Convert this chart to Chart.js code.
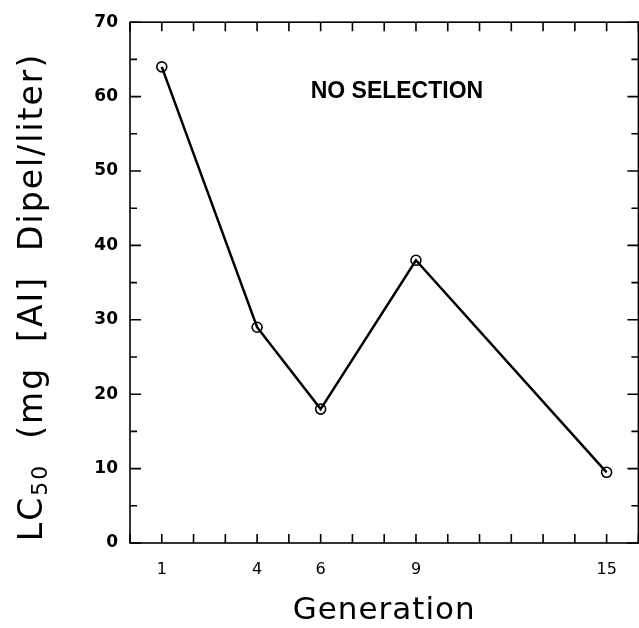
<!DOCTYPE html>
<html>
<head>
<meta charset="utf-8">
<script src="https://cdn.jsdelivr.net/npm/chart.js@4"></script>
<style>
  html, body { margin: 0; padding: 0; background: #fff; overflow: hidden; }
  canvas { display: block; }
</style>
</head>
<body>
<!-- a bit wider than the window: chart.js keeps ~6px on the right that the original has not -->
<canvas id="chart" width="645" height="628"></canvas>
<script>
// data
const generations = [1, 4, 6, 9, 15];
const lc50 = [64, 29, 18, 38, 9.5];
const xTickLabels = [1, 4, 6, 9, 15];
const yTickLabels = [0, 10, 20, 30, 40, 50, 60, 70];
const xTitle = 'Generation';
const yTitleParts = ['LC', '50', '  (mg  [AI]  Dipel/liter)'];
const noteText = 'NO SELECTION';
const notePos = { x: 8.4, y: 60.7 };

// frame + inward ticks on all four sides, titles and the note
const framePlugin = {
  id: 'frame',
  beforeDatasetsDraw(chart) {
    const ctx = chart.ctx;
    const a = chart.chartArea;
    const xs = chart.scales.x, ys = chart.scales.y;
    ctx.save();
    ctx.strokeStyle = '#000';
    ctx.lineWidth = 1.6;
    ctx.strokeRect(a.left, a.top, a.right - a.left, a.bottom - a.top);
    ctx.beginPath();
    xs.ticks.forEach(t => {
      const px = xs.getPixelForValue(t.value);
      ctx.moveTo(px, a.bottom); ctx.lineTo(px, a.bottom - 9);
      ctx.moveTo(px, a.top); ctx.lineTo(px, a.top + 9);
    });
    ys.ticks.forEach(t => {
      const py = ys.getPixelForValue(t.value);
      const len = t.value % 10 === 0 ? 11 : 7;
      ctx.moveTo(a.left, py); ctx.lineTo(a.left + len, py);
      ctx.moveTo(a.right, py); ctx.lineTo(a.right - len, py);
    });
    ctx.stroke();

    // note inside the plot
    ctx.fillStyle = '#000';
    ctx.font = 'bold 23px "Liberation Sans"';
    ctx.textAlign = 'center';
    ctx.textBaseline = 'middle';
    ctx.fillText(noteText, xs.getPixelForValue(notePos.x), ys.getPixelForValue(notePos.y));
    ctx.restore();
  },
  afterDraw(chart) {
    const ctx = chart.ctx;
    const a = chart.chartArea;
    ctx.save();
    ctx.fillStyle = '#000';
    // x title
    ctx.font = '31px "DejaVu Sans"';
    ctx.letterSpacing = '1px';
    ctx.textAlign = 'center';
    ctx.textBaseline = 'middle';
    ctx.fillText(xTitle, (a.left + a.right) / 2, 611);

    // y title with subscript
    ctx.translate(33, 297);
    ctx.rotate(-Math.PI / 2);
    ctx.textAlign = 'left';
    ctx.textBaseline = 'middle';
    ctx.letterSpacing = '2px';
    const big = '33px "DejaVu Sans"', small = '22px "DejaVu Sans"';
    ctx.font = big;
    const w0 = ctx.measureText(yTitleParts[0]).width;
    const w2 = ctx.measureText(yTitleParts[2]).width;
    ctx.font = small;
    const w1 = ctx.measureText(yTitleParts[1]).width;
    let x = -(w0 + w1 + w2) / 2;
    ctx.font = big;
    ctx.fillText(yTitleParts[0], x, 0);
    x += w0;
    ctx.font = small;
    ctx.fillText(yTitleParts[1], x, 8);
    x += w1;
    ctx.font = big;
    ctx.fillText(yTitleParts[2], x, 0);
    ctx.restore();
  }
};

new Chart(document.getElementById('chart'), {
  type: 'line',
  data: {
    datasets: [{
      data: generations.map((g, i) => ({ x: g, y: lc50[i] })),
      borderColor: '#000',
      borderWidth: 2.5,
      pointRadius: 5,
      pointBorderWidth: 1.6,
      pointBackgroundColor: 'rgba(0,0,0,0)',
      pointBorderColor: '#000',
      tension: 0,
      clip: false
    }]
  },
  options: {
    responsive: false,
    animation: false,
    devicePixelRatio: 1,
    layout: { padding: { top: 21, right: 1, left: 0, bottom: 0 } },
    plugins: { legend: { display: false }, tooltip: { enabled: false } },
    scales: {
      x: {
        type: 'linear',
        min: 0,
        max: 16,
        grid: { display: false, drawTicks: false },
        border: { display: false },
        ticks: {
          stepSize: 1,
          autoSkip: false,
          maxRotation: 0,
          padding: 0,
          color: '#000',
          font: { family: 'DejaVu Sans', size: 16, lineHeight: '54px' },
          callback: v => xTickLabels.includes(v) ? String(v) : ''
        },
        afterFit(s) { s.height = 85; s.paddingLeft = 0; s.paddingRight = 0; }
      },
      y: {
        min: 0,
        max: 70,
        grid: { display: false, drawTicks: false },
        border: { display: false },
        ticks: {
          stepSize: 5,
          autoSkip: false,
          padding: 12,
          color: '#000',
          font: { family: 'DejaVu Sans', size: 17, weight: 'bold' },
          callback: v => yTickLabels.includes(v) ? String(v) : ''
        },
        afterFit(s) { s.width = 130; }
      }
    }
  },
  plugins: [framePlugin]
});
</script>
</body>
</html>
